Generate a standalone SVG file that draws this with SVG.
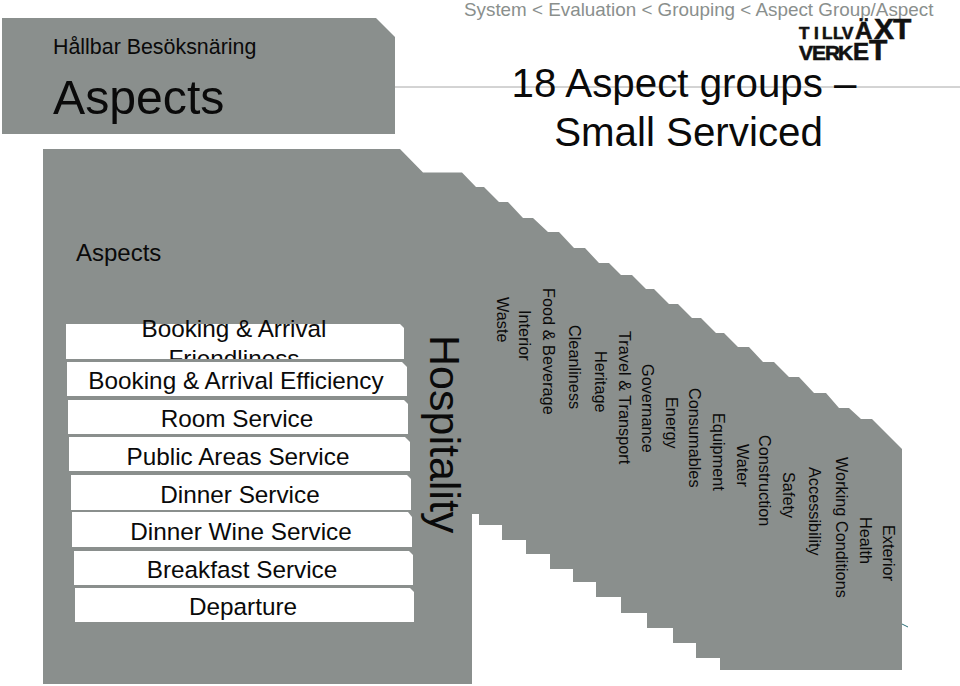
<svg xmlns="http://www.w3.org/2000/svg" width="960" height="686" viewBox="0 0 960 686">
<style>
text{font-family:"Liberation Sans",Arial,sans-serif;fill:#0a0a0a}
.p{fill:#8a8f8d}
.r{fill:#fff}
.t{font-size:24.3px;text-anchor:middle}
.v{font-size:16.3px}
.logo{font-family:"Liberation Sans",Arial,sans-serif;font-weight:bold;fill:#111;stroke:#111;stroke-width:.6px}
</style>
<defs><clipPath id="c1"><rect x="60" y="320" width="360" height="39"/></clipPath></defs>
<rect width="960" height="686" fill="#fff"/>
<path d="M395 87H960" stroke="#a8a8a8" stroke-width="1" fill="none"/>
<g id="header"><path class="p" d="M2 18H376L395 37V134H2Z"/>
<text x="53" y="54" font-size="21.4">Hållbar Besöksnäring</text>
<text x="53" y="114" font-size="48.2">Aspects</text></g>
<text x="464" y="16" font-size="18.84" style="fill:#8a8f8d">System &lt; Evaluation &lt; Grouping &lt; Aspect Group/Aspect</text>
<g id="logo"><text class="logo" x="799 814 822 833 842" y="39" font-size="17">TILLV</text>
<text class="logo" x="855" y="39" font-size="24">Ä</text>
<text class="logo" x="874" y="39" font-size="30">X</text>
<text class="logo" x="893" y="39" font-size="30">T</text>
<text class="logo" x="799 812 825 838" y="60" font-size="21">VERK</text>
<text class="logo" x="853" y="60" font-size="24">E</text>
<text class="logo" x="869" y="60" font-size="30">T</text></g>
<text x="684" y="97" font-size="40.3" text-anchor="middle">18 Aspect groups –</text>
<text x="688.5" y="146" font-size="40.3" text-anchor="middle">Small Serviced</text>
<path d="M902 624L908 627" stroke="#2a6f78" stroke-width="1" fill="none"/>
<g id="panel"><path class="p" d="M43 149H400L423 172.500H462L476 187H484L499 202H508L523 218H533L548 232H559L574 248H585L599 263H609L621 275H632L646 289H654L669 304H678L692 318H701L716 333H724L738 347H749L763 362H774L789 377H799L814 393H826L839 408H849L861 419H872L902 449V670H720V658H696V643H673V628H647V613H621V597H596V582H573V569H550V554H526V540H502V525H479V514H472V684H43Z"/>
<text x="76" y="261" font-size="24">Aspects</text>
<text font-size="43" transform="translate(430,335) rotate(90)">Hospitality</text></g>
<g id="row1"><path class="r" d="M66 324H400L404 328V359H66Z"/><g clip-path="url(#c1)"><text class="t" x="234" y="337">Booking &amp; Arrival</text><text class="t" x="234" y="367">Friendliness</text></g></g>
<g id="row2"><path class="r" d="M67 362H402L407 367V396H67Z"/><text class="t" x="236" y="389">Booking &amp; Arrival Efficiency</text></g>
<g id="row3"><path class="r" d="M68 400H404L408 404V434H68Z"/><text class="t" x="237" y="427">Room Service</text></g>
<g id="row4"><path class="r" d="M69 437H405L410 442V471H69Z"/><text class="t" x="238" y="465">Public Areas Service</text></g>
<g id="row5"><path class="r" d="M71 475H407L411 479V510H71Z"/><text class="t" x="240" y="503">Dinner Service</text></g>
<g id="row6"><path class="r" d="M72 512H408L412 517V547H72Z"/><text class="t" x="241" y="540">Dinner Wine Service</text></g>
<g id="row7"><path class="r" d="M74 551H409L413 555V585H74Z"/><text class="t" x="242" y="578">Breakfast Service</text></g>
<g id="row8"><path class="r" d="M75 588H410L414 592V622H75Z"/><text class="t" x="243" y="615">Departure</text></g>
<g id="labels">
<text class="v" transform="translate(497,297) rotate(90)">Waste</text>
<text class="v" transform="translate(519,310) rotate(90)">Interior</text>
<text class="v" transform="translate(543,288) rotate(90)">Food &amp; Beverage</text>
<text class="v" transform="translate(569,325) rotate(90)">Cleanliness</text>
<text class="v" transform="translate(595,351) rotate(90)">Heritage</text>
<text class="v" transform="translate(619,331) rotate(90)">Travel &amp; Transport</text>
<text class="v" transform="translate(642,364) rotate(90)">Governance</text>
<text class="v" transform="translate(666,397) rotate(90)">Energy</text>
<text class="v" transform="translate(689,388) rotate(90)">Consumables</text>
<text class="v" transform="translate(713,413) rotate(90)">Equipment</text>
<text class="v" transform="translate(737,444) rotate(90)">Water</text>
<text class="v" transform="translate(759,435) rotate(90)">Construction</text>
<text class="v" transform="translate(783,472) rotate(90)">Safety</text>
<text class="v" transform="translate(809,467) rotate(90)">Accessibility</text>
<text class="v" transform="translate(836,457) rotate(90)">Working Conditions</text>
<text class="v" transform="translate(860,517) rotate(90)">Health</text>
<text class="v" transform="translate(883,525) rotate(90)">Exterior</text>
</g>
</svg>
